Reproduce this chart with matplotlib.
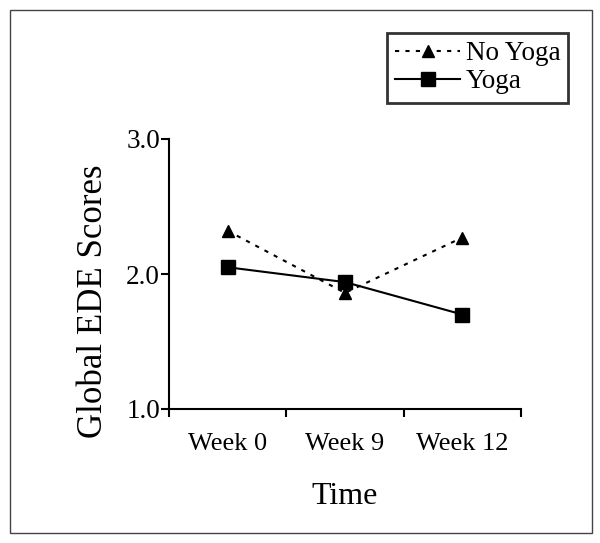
import matplotlib.pyplot as plt
from matplotlib.patches import Rectangle

weeks = ['Week 0', 'Week 9', 'Week 12']
no_yoga = [2.32, 1.86, 2.27]
yoga = [2.05, 1.94, 1.70]

plt.rcParams['font.family'] = ['Liberation Serif', 'DejaVu Serif']

fig = plt.figure(figsize=(6, 5.43), dpi=100)
ax = fig.add_axes([169 / 600, 1 - 409 / 543, 352 / 600, 270 / 543])

x = range(len(weeks))
ax.plot(x, no_yoga, linestyle=(0, (2, 3)), color='black', lw=1.5,
        marker='^', markersize=9, label='No Yoga')
ax.plot(x, yoga, linestyle='-', color='black', lw=1.5,
        marker='s', markersize=10.5, label='Yoga')

ax.set_xlim(-0.5, 2.5)
ax.set_ylim(1.0, 3.0)
ax.set_yticks([1.0, 2.0, 3.0])
ax.set_yticklabels(['1.0', '2.0', '3.0'], fontsize=19.5)
ax.set_xticks(list(x))
ax.set_xticklabels(weeks, fontsize=19)
ax.set_xticks([-0.5, 0.5, 1.5, 2.5], minor=True)
ax.tick_params(axis='x', which='major', length=0, pad=17)
ax.tick_params(axis='x', which='minor', length=6, width=1.5, direction='out')
ax.tick_params(axis='y', length=6, width=1.5, pad=0.5)

for s in ['top', 'right']:
    ax.spines[s].set_visible(False)
for s in ['left', 'bottom']:
    ax.spines[s].set_linewidth(1.5)

ax.set_ylabel('Global EDE Scores', fontsize=25)
ax.yaxis.set_label_coords(-0.168, 0.40)
ax.set_xlabel('Time', fontsize=23, labelpad=20)

leg = fig.legend(loc='upper left', bbox_to_anchor=(387 / 600, 1 - 33 / 543),
                 fontsize=19.5, frameon=True, fancybox=False, borderpad=0.3,
                 handlelength=2.4, handletextpad=0.2, labelspacing=0.12,
                 borderaxespad=0)
leg.get_frame().set_edgecolor('black')
leg.get_frame().set_linewidth(2)

fig.patches.append(Rectangle((10 / 600, 10 / 543), 582 / 600, 523 / 543,
                             transform=fig.transFigure, fill=False,
                             edgecolor='#444444', lw=1))

fig.savefig('out.png', dpi=100)
